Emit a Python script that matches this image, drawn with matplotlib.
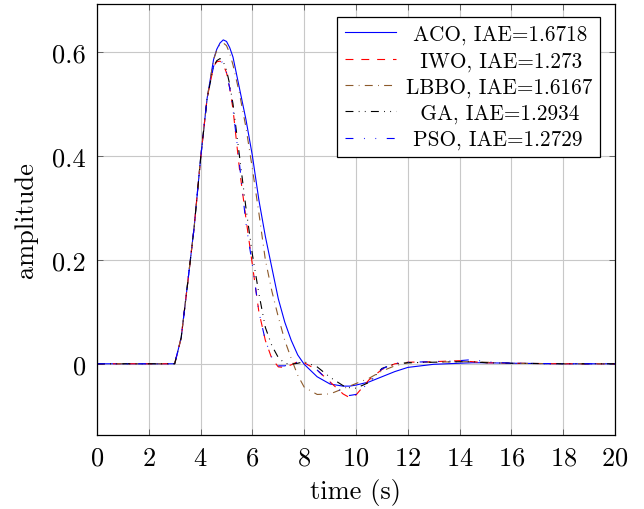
import numpy as np
import matplotlib
matplotlib.use('Agg')
import matplotlib.pyplot as plt

plt.rcParams['font.family'] = 'cmr10'
plt.rcParams['mathtext.fontset'] = 'cm'
plt.rcParams['axes.formatter.use_mathtext'] = True
plt.rcParams['lines.scale_dashes'] = False

# time samples (s)
t = [0, 1, 2, 3, 3.25, 3.5, 3.75, 4, 4.25, 4.5, 4.625, 4.75, 4.875, 5, 5.125,
     5.25, 5.5, 5.75, 6, 6.25, 6.5, 6.75, 7, 7.25, 7.5, 7.75, 8, 8.5, 9, 9.5,
     9.75, 10, 10.5, 11, 11.5, 12, 13, 14, 14.5, 15, 16, 18, 20]

aco = [0, 0, 0, 0, 0.05, 0.155, 0.262, 0.395, 0.51, 0.585, 0.605, 0.617, 0.623,
       0.62, 0.608, 0.59, 0.53, 0.47, 0.40, 0.315, 0.245, 0.185, 0.125, 0.08,
       0.045, 0.017, -0.001, -0.025, -0.039, -0.043, -0.043, -0.041, -0.035,
       -0.025, -0.015, -0.007, -0.001, 0.001, 0.002, 0.002, 0.001, 0, 0]
iwo = [0, 0, 0, 0, 0.05, 0.155, 0.262, 0.395, 0.51, 0.572, 0.581, 0.582, 0.575,
       0.56, 0.53, 0.49, 0.375, 0.28, 0.19, 0.1, 0.045, 0.01, -0.006, -0.007,
       -0.002, 0.004, 0.002, -0.012, -0.035, -0.058, -0.065, -0.06, -0.031,
       -0.011, 0.0, 0.003, 0.004, 0.006, 0.004, 0.002, 0.001, 0, 0]
lbbo = [0, 0, 0, 0, 0.05, 0.155, 0.262, 0.395, 0.51, 0.585, 0.603, 0.614, 0.617,
        0.612, 0.597, 0.575, 0.52, 0.455, 0.375, 0.29, 0.2, 0.14, 0.09, 0.045,
        0.01, -0.022, -0.045, -0.059, -0.058, -0.048, -0.043, -0.038, -0.028,
        -0.014, -0.004, 0.002, 0.003, 0.004, 0.004, 0.003, 0.001, 0, 0]
ga = [0, 0, 0, 0, 0.05, 0.155, 0.262, 0.395, 0.51, 0.572, 0.583, 0.587, 0.581,
      0.565, 0.537, 0.5, 0.4, 0.3, 0.21, 0.135, 0.07, 0.035, 0.012, 0.001,
      -0.001, 0.001, 0.004, -0.006, -0.026, -0.042, -0.046, -0.047, -0.036,
      -0.009, 0.0, 0.002, 0.003, 0.004, 0.004, 0.002, 0.001, 0, 0]
pso = [0, 0, 0, 0, 0.05, 0.155, 0.262, 0.395, 0.51, 0.572, 0.582, 0.584, 0.578,
       0.56, 0.53, 0.49, 0.385, 0.27, 0.19, 0.1, 0.045, 0.012, -0.004, -0.004,
       0.0, 0.003, 0.002, -0.012, -0.036, -0.056, -0.061, -0.059, -0.036, -0.01,
       0.001, 0.003, 0.004, 0.006, 0.008, 0.004, 0.001, 0, 0]

labels = ['ACO, IAE=1.6718', 'IWO, IAE=1.273', 'LBBO, IAE=1.6167',
          'GA, IAE=1.2934', 'PSO, IAE=1.2729']
# leading spaces roughly centre the shorter labels like the original legend
pad = [1, 2, 0, 2, 1]

fig = plt.figure(figsize=(6.44, 5.10), dpi=100)
ax = fig.add_axes([97 / 644, 1 - 436 / 510, 518 / 644, 431 / 510])

lw = 0.8
styles = [
    ('#0000ff', '-'),
    ('#ff0000', (0, (5.7, 5.7))),
    ('#8c5a2b', (0, (5.7, 3.8, 0.6, 3.8))),
    ('black', (0, (5.7, 3.8, 0.6, 3.8, 0.6, 3.8))),
    ('#0000ff', (0, (5.7, 7.6, 0.6, 7.6, 0.6, 7.6))),
]
for y, lab, p, (c, ls) in zip([aco, iwo, lbbo, ga, pso], labels, pad, styles):
    ax.plot(t, y, color=c, lw=lw, ls=ls, label=' ' * p + lab)

ax.set_xlim(0, 20)
ax.set_ylim(-0.137, 0.692)
ax.set_xticks(np.arange(0, 21, 2))
ax.set_yticks([0, 0.2, 0.4, 0.6])
ax.set_yticklabels(['0', '0.2', '0.4', '0.6'])
ax.grid(True, color='#c8c8c8', lw=0.8)
ax.tick_params(direction='in', top=True, right=True, length=4, width=0.6,
               color='#555555', labelsize=19, pad=8)
for s in ax.spines.values():
    s.set_linewidth(0.9)

ax.set_xlabel('time (s)', fontsize=19, labelpad=6)
ax.set_ylabel('amplitude', fontsize=19, labelpad=10)

leg = ax.legend(loc='upper right', bbox_to_anchor=(0.971, 0.970), borderaxespad=0,
                fontsize=15.3, fancybox=False, framealpha=1, edgecolor='black',
                handlelength=2.4, handletextpad=0.5, labelspacing=0.3,
                borderpad=0.35)
leg.get_frame().set_linewidth(0.9)

fig.savefig('out.png', dpi=100)
